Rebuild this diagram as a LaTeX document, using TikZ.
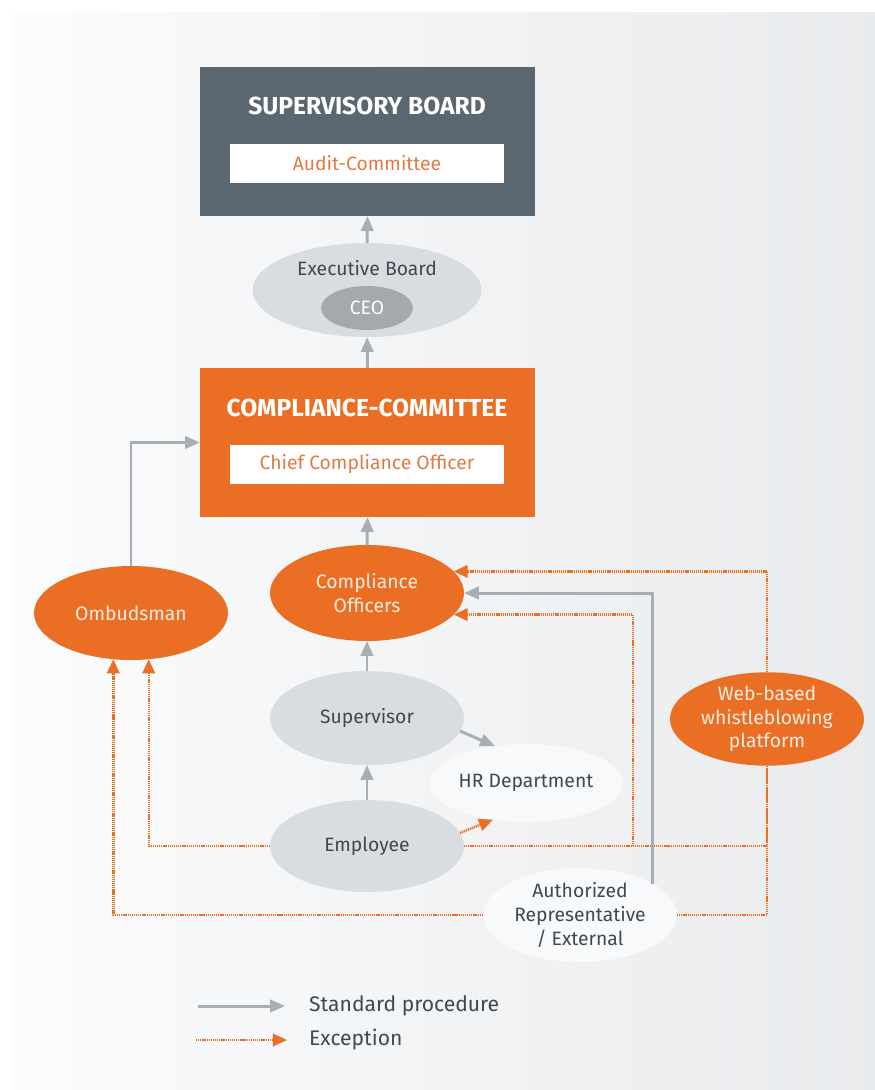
\documentclass[tikz,border=0pt]{standalone}
\usepackage{fontspec}
\setmainfont{Fira Sans}
\usetikzlibrary{shapes.geometric, arrows.meta}

\definecolor{slate}{HTML}{5B6770}
\definecolor{orng}{HTML}{EB6E25}
\definecolor{orngtext}{HTML}{E07B46}
\definecolor{cream}{HTML}{FCEDE2}
\definecolor{ovalgray}{HTML}{D9DDE1}
\definecolor{ceogray}{HTML}{A4A9AE}
\definecolor{pale}{HTML}{F8F9FA}
\definecolor{arrowgray}{HTML}{A7AEB5}
\definecolor{txt}{HTML}{3E4951}

\tikzset{
  board/.style={rectangle, minimum width=6.7cm, minimum height=2.98cm, inner sep=0pt, outer sep=0pt},
  boardtitle/.style={text=white, font=\bfseries\fontsize{14}{16}\selectfont},
  subbox/.style={fill=white, minimum width=5.48cm, minimum height=0.78cm, inner sep=0pt,
    text=orngtext, font=\fontsize{11}{13}\selectfont},
  oval/.style={ellipse, minimum width=3.88cm, minimum height=1.88cm, inner sep=0pt, outer sep=0pt,
    align=center, font=\fontsize{11}{13.5}\selectfont},
  grayoval/.style={oval, fill=ovalgray, text=txt},
  orangeoval/.style={oval, fill=orng, text=cream},
  paleoval/.style={oval, fill=pale, text=txt},
  std/.style={draw=arrowgray, line width=1.7pt, -{Triangle[length=8.5pt,width=7pt]}},
  exc/.style={draw=orng, line width=1.4pt, dash pattern=on 0.7pt off 0.5pt},
  excarrow/.style={exc, -{Triangle[length=8pt,width=7pt]}},
}

\begin{document}
\begin{tikzpicture}[x=0.02cm, y=-0.02cm]
  % Background panel
  \useasboundingbox (0,0) rectangle (875,1090);
  \fill[white] (0,0) rectangle (875,1090);
  \shade[left color=white!50!ovalgray!20, right color=ovalgray!60] (12,12) rectangle (875,1090);

  % Supervisory board with audit committee
  \node[board, fill=slate] (sb) at (367.5,141.5) {};
  \node[boardtitle] (sbt) at (367,106) {SUPERVISORY BOARD};
  \node[subbox] (audit) at (367,163) {Audit-Committee};

  % Executive board with the CEO inside
  \node[grayoval, minimum width=4.58cm] (exb) at (367,290) {};
  \node[text=txt, font=\fontsize{11}{13}\selectfont] (exbt) at (367,268) {Executive Board};
  \node[ellipse, fill=ceogray, minimum width=1.84cm, minimum height=0.88cm, inner sep=0pt,
    text=white, font=\fontsize{11}{13}\selectfont] (ceo) at (367,308) {CEO};

  % Compliance committee with the chief compliance officer
  \node[board, fill=orng] (cc) at (367.5,442.5) {};
  \node[boardtitle] (cct) at (367,408) {COMPLIANCE-COMMITTEE};
  \node[subbox] (cco) at (367,464) {Chief Compliance Officer};

  % Ovals
  \node[orangeoval, minimum height=1.92cm] (co) at (367,593) {Compliance\\Officers};
  \node[orangeoval] (omb) at (131,613) {Ombudsman};
  \node[grayoval] (sup) at (367,718) {Supervisor};
  \node[paleoval, minimum height=1.56cm] (hr) at (526,783) {HR Department};
  \node[grayoval, minimum height=1.84cm] (emp) at (367,846) {Employee};
  \node[orangeoval, minimum height=1.84cm] (wb) at (767,719) {Web-based\\whistleblowing\\platform};
  \node[paleoval] (auth) at (580,915) {Authorized\\Representative\\/ External};

  % Exception routes (dotted)
  \coordinate (split) at (633,846);
  \draw[excarrow] (wb.north) |- (co.14);
  \draw[excarrow] (split) |- (co.-14);
  \draw[exc] (emp.east) -| (wb.south);
  \draw[exc] (auth.east) -| (wb.south);
  \draw[excarrow] (emp.west) -| (omb.-69);
  \draw[excarrow] (auth.west) -| (omb.-111);
  \draw[excarrow] (emp.8) -- (hr.228);

  % Standard procedure (solid)
  \draw[std] (exb.north) -- (sb.south);
  \draw[std] (cc.north) -- (exb.south);
  \draw[std] (co.north) -- (cc.south);
  \draw[std] (sup.north) -- (co.south);
  \draw[std] (emp.north) -- (sup.south);
  \draw[std] (sup.-8) -- (hr.130);
  \draw[std] (omb.north) |- (cc.west);
  \draw[std] (auth.23) |- (co.east);

  % Legend
  \coordinate (stdfrom) at (198,1006);
  \coordinate (stdto) at (285,1006);
  \coordinate (excfrom) at (196,1040);
  \coordinate (excto) at (287,1040);
  \draw[std] (stdfrom) -- (stdto);
  \draw[excarrow] (excfrom) -- (excto);
  \node[anchor=west, text=txt, font=\fontsize{12}{14}\selectfont] (stdlabel) at (303,1006) {Standard procedure};
  \node[anchor=west, text=txt, font=\fontsize{12}{14}\selectfont] (exclabel) at (303,1040) {Exception};
\end{tikzpicture}
\end{document}
